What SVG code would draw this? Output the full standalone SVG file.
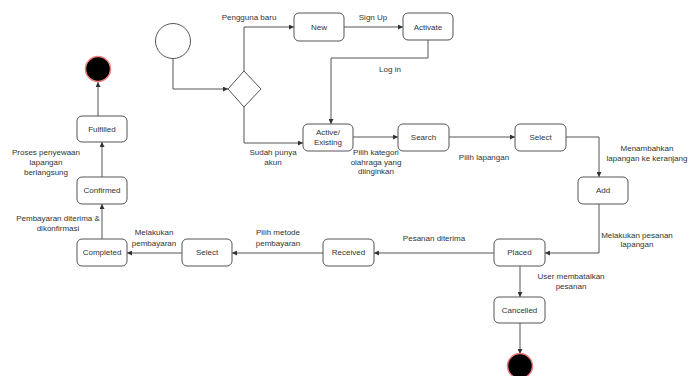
<svg xmlns="http://www.w3.org/2000/svg" width="700" height="376" viewBox="0 0 700 376">
<defs>
<marker id="ah" viewBox="0 0 6 6" refX="6" refY="3" markerWidth="5" markerHeight="5" orient="auto" markerUnits="userSpaceOnUse">
<path d="M0,0 L6,3 L0,6 z" fill="#333"/>
</marker>
<style>
.box{fill:#fff;stroke:#555;stroke-width:1}
.t{font-family:"Liberation Sans",Arial,sans-serif;font-size:8px;fill:#333;text-anchor:middle}
.c{fill:none;stroke:#555;stroke-width:1}
.end{fill:#000;stroke:#f08080;stroke-width:1.5}
</style>
</defs>
<rect width="700" height="376" fill="#fff"/>
<g id="connectors">
<path class="c" d="M173,59 V89 H228" marker-end="url(#ah)"/>
<path class="c" d="M244,71 V27 H294" marker-end="url(#ah)"/>
<path class="c" d="M344,27 H403" marker-end="url(#ah)"/>
<path class="c" d="M428,40 V58 H331 V124" marker-end="url(#ah)"/>
<path class="c" d="M244,107 V143 H303" marker-end="url(#ah)"/>
<path class="c" d="M353,137 H398" marker-end="url(#ah)"/>
<path class="c" d="M449,137 H515" marker-end="url(#ah)"/>
<path class="c" d="M566,137 H599 V177" marker-end="url(#ah)"/>
<path class="c" d="M599,204 V253 H545" marker-end="url(#ah)"/>
<path class="c" d="M494,253 H374" marker-end="url(#ah)"/>
<path class="c" d="M323,253 H232" marker-end="url(#ah)"/>
<path class="c" d="M182,253 H127" marker-end="url(#ah)"/>
<path class="c" d="M102,239 V204" marker-end="url(#ah)"/>
<path class="c" d="M102,177 V142" marker-end="url(#ah)"/>
<path class="c" d="M98,116 V82" marker-end="url(#ah)"/>
<path class="c" d="M520,266 V297" marker-end="url(#ah)"/>
<path class="c" d="M520,323 V354" marker-end="url(#ah)"/>
<text class="t" x="249" y="20">Pengguna baru</text>
<text class="t" x="373" y="20">Sign Up</text>
<text class="t" x="390" y="72">Log in</text>
<text class="t" x="273" y="155">Sudah punya</text>
<text class="t" x="273" y="165">akun</text>
<text class="t" x="376" y="155">Pilih kategori</text>
<text class="t" x="376" y="165">olahraga yang</text>
<text class="t" x="376" y="174">diinginkan</text>
<text class="t" x="484" y="160">Pilih lapangan</text>
<text class="t" x="647" y="151">Menambahkan</text>
<text class="t" x="647" y="161">lapangan ke keranjang</text>
<text class="t" x="637" y="238">Melakukan pesanan</text>
<text class="t" x="637" y="247">lapangan</text>
<text class="t" x="434" y="241">Pesanan diterima</text>
<text class="t" x="278" y="235">Pilih metode</text>
<text class="t" x="278" y="246">pembayaran</text>
<text class="t" x="154" y="235">Melakukan</text>
<text class="t" x="154" y="246">pembayaran</text>
<text class="t" x="58" y="221">Pembayaran diterima &amp;</text>
<text class="t" x="58" y="231">dikonfirmasi</text>
<text class="t" x="46" y="155">Proses penyewaan</text>
<text class="t" x="46" y="165">lapangan</text>
<text class="t" x="46" y="175">berlangsung</text>
<text class="t" x="571" y="279">User membatalkan</text>
<text class="t" x="571" y="289">pesanan</text>
</g>
<g id="start"><circle cx="173" cy="41" r="17.5" fill="#fff" stroke="#555"/></g>
<g id="decision"><path d="M244,71 L261,89 L244,107 L228,89 Z" fill="#fff" stroke="#555"/></g>
<g id="new"><rect class="box" x="294" y="13" width="50" height="28" rx="5"/><text class="t" x="319" y="30">New</text></g>
<g id="activate"><rect class="box" x="403" y="13" width="50" height="27" rx="5"/><text class="t" x="428" y="30">Activate</text></g>
<g id="active"><rect class="box" x="303" y="124" width="50" height="27" rx="5"/><text class="t" x="328" y="135">Active/</text><text class="t" x="328" y="145">Existing</text></g>
<g id="search"><rect class="box" x="398" y="124" width="51" height="27" rx="5"/><text class="t" x="423.5" y="140">Search</text></g>
<g id="select1"><rect class="box" x="515" y="124" width="51" height="27" rx="5"/><text class="t" x="540.5" y="140">Select</text></g>
<g id="add"><rect class="box" x="578" y="177" width="50" height="27" rx="5"/><text class="t" x="603" y="193">Add</text></g>
<g id="placed"><rect class="box" x="494" y="239" width="51" height="27" rx="5"/><text class="t" x="519.5" y="255">Placed</text></g>
<g id="received"><rect class="box" x="323" y="239" width="51" height="27" rx="5"/><text class="t" x="348.5" y="255">Received</text></g>
<g id="select2"><rect class="box" x="182" y="239" width="50" height="27" rx="5"/><text class="t" x="207" y="255">Select</text></g>
<g id="completed"><rect class="box" x="77" y="239" width="50" height="27" rx="5"/><text class="t" x="102" y="255">Completed</text></g>
<g id="confirmed"><rect class="box" x="77" y="177" width="50" height="27" rx="5"/><text class="t" x="102" y="193">Confirmed</text></g>
<g id="fulfilled"><rect class="box" x="77" y="116" width="50" height="26" rx="5"/><text class="t" x="102" y="132">Fulfilled</text></g>
<g id="cancelled"><rect class="box" x="494" y="297" width="51" height="26" rx="5"/><text class="t" x="519.5" y="313">Cancelled</text></g>
<g id="end1"><circle class="end" cx="98" cy="69" r="12.5"/></g>
<g id="end2"><circle class="end" cx="520" cy="366" r="12.5"/></g>
</svg>
